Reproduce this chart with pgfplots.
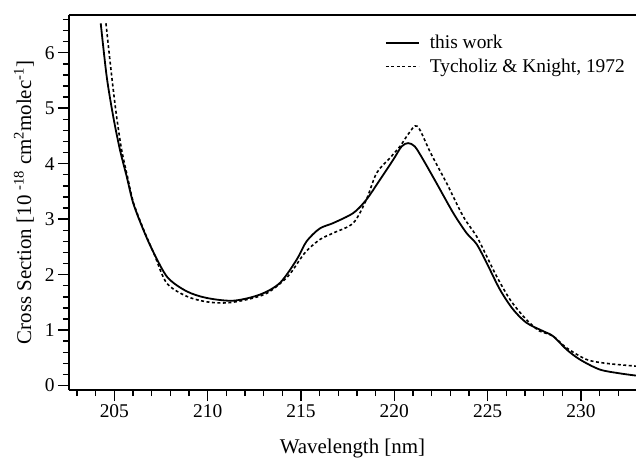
\documentclass[border=0pt]{standalone}
\usepackage{fontspec}
\setmainfont{Liberation Serif}
\usepackage{pgfplots}
\pgfplotsset{compat=1.18}
\begin{document}
\begin{tikzpicture}
\begin{axis}[
  scale only axis,
  width=567bp, height=375bp,
  xmin=202.57, xmax=232.95,
  ymin=-0.08, ymax=6.68,
  axis x line*=bottom, axis y line*=left,
  axis line style={line width=1.6bp},
  xtick={205,210,215,220,225,230},
  minor xtick={203,204,206,207,208,209,211,212,213,214,216,217,218,219,221,222,223,224,226,227,228,229,231,232},
  ytick={0,1,2,3,4,5,6},
  minor ytick={0.2,0.4,0.6,0.8,1.2,1.4,1.6,1.8,2.2,2.4,2.6,2.8,3.2,3.4,3.6,3.8,4.2,4.4,4.6,4.8,5.2,5.4,5.6,5.8,6.2,6.4,6.6},
  tick align=outside,
  major tick length=11bp, minor tick length=6bp,
  every tick/.style={black, line width=1.4bp},
  /pgf/number format/assume math mode=true,
  xticklabel style={font=\fontsize{19.5}{22}\selectfont},
  yticklabel style={font=\fontsize{19.5}{22}\selectfont},
  xlabel={Wavelength [nm]},
  ylabel={Cross Section [10 \textsuperscript{-18} cm\textsuperscript{2}molec\textsuperscript{-1}]},
  label style={font=\fontsize{21}{24}\selectfont},
  xlabel style={at={(axis description cs:0.5,-0.157)}, anchor=center},
  ylabel style={at={(axis description cs:-0.0794,0.5)}, anchor=center},
  legend style={at={(axis description cs:0.557,0.952)}, anchor=north west, draw=none, fill=none,
    font=\fontsize{19.5}{22}\selectfont, row sep=5bp, inner sep=0pt,
    /tikz/every odd column/.append style={column sep=8bp}},
  legend cell align=left,
  legend image code/.code={\draw[#1] (0bp,0bp) -- (33bp,0bp);},
  clip mode=individual,
]
\addplot[black, line width=1.8bp, smooth] coordinates {
(204.27,6.53) (204.59,5.57) (204.94,4.85) (205.30,4.25) (205.66,3.77)
(206.01,3.29) (206.55,2.81) (207.10,2.40) (207.85,1.95) (208.87,1.70)
(209.94,1.58) (211.37,1.53) (212.80,1.64) (213.87,1.85) (214.77,2.27)
(215.30,2.60) (216.00,2.83) (216.73,2.93) (217.80,3.11) (218.50,3.35)
(219.23,3.71) (219.94,4.07) (220.39,4.31) (220.74,4.37) (221.10,4.31)
(221.55,4.07) (222.26,3.65) (223.16,3.11) (223.87,2.75) (224.41,2.55)
(224.95,2.21) (225.66,1.73) (226.37,1.37) (227.09,1.13) (227.98,0.98)
(228.51,0.89) (229.23,0.65) (229.94,0.47) (231.00,0.29) (232.08,0.22) (232.95,0.18)
};
\addlegendentry{this work}
\addplot[black, line width=1.6bp, dash pattern=on 3bp off 2.5bp, smooth] coordinates {
(204.55,6.53) (204.86,5.57) (205.12,4.85) (205.39,4.25) (205.70,3.77)
(206.03,3.29) (206.57,2.81) (207.12,2.38) (207.80,1.85) (208.87,1.61)
(209.94,1.51) (211.00,1.49) (212.10,1.55) (213.20,1.67) (214.30,1.97)
(215.20,2.39) (216.00,2.63) (216.73,2.75) (217.80,2.93) (218.50,3.35)
(219.05,3.83) (219.76,4.10) (220.30,4.31) (220.66,4.49) (221.10,4.68)
(221.37,4.61) (221.95,4.19) (222.80,3.65) (223.69,3.05) (224.41,2.69)
(224.95,2.33) (225.48,1.97) (226.20,1.55) (226.91,1.25) (227.45,1.07)
(227.80,0.98) (228.51,0.89) (229.23,0.68) (230.30,0.47) (231.37,0.40) (232.95,0.35)
};
\addlegendentry{Tycholiz \& Knight, 1972}
\draw[line width=1.6bp] (rel axis cs:0,1) -- (rel axis cs:1,1);
\end{axis}
\pgfresetboundingbox
\path[use as bounding box] ([xshift=-69bp,yshift=-71bp]current axis.south west) rectangle ([yshift=15bp]current axis.north east);
\end{tikzpicture}
\end{document}
